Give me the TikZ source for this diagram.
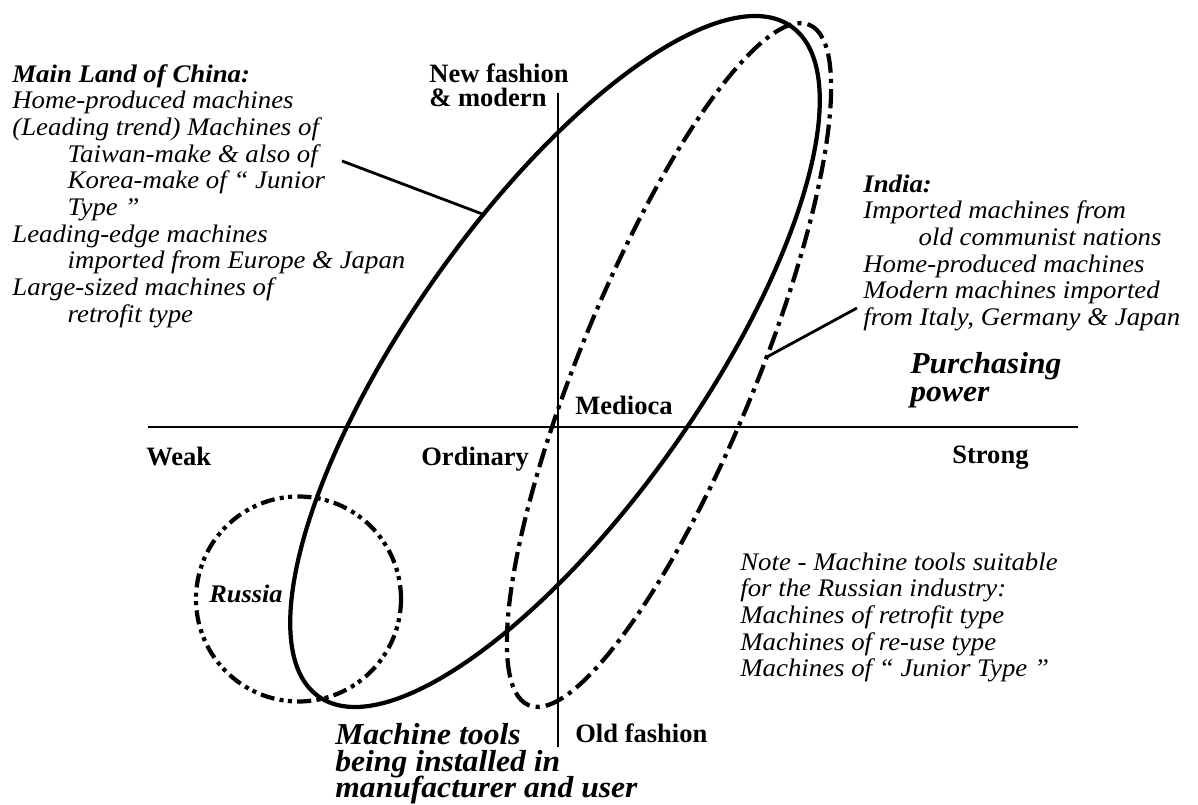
\documentclass[tikz,border=0pt]{standalone}
\usepackage{fontspec}
\setmainfont{Liberation Serif}
\newfontfamily\itf[FakeStretch=1.06,ItalicFont={Liberation Serif Italic},BoldItalicFont={Liberation Serif Bold Italic},BoldFont={Liberation Serif Bold}]{Liberation Serif}
\newfontfamily\bif[FakeStretch=1.04,ItalicFont={Liberation Serif Italic},BoldItalicFont={Liberation Serif Bold Italic},BoldFont={Liberation Serif Bold}]{Liberation Serif}
\newcommand\blk[1]{\begin{tabular}[t]{@{}l@{}}#1\end{tabular}}
\newcommand\ind{\hspace*{31.5pt}}
\begin{document}
\begin{tikzpicture}[x=0.02cm,y=-0.02cm,
  body/.style={inner sep=0,anchor=base west,font=\itf\itshape\fontsize{14.4}{15.2}\selectfont},
  lab/.style={inner sep=0,anchor=base west,font=\bfseries\fontsize{15.1}{15.1}\selectfont},
  big/.style={inner sep=0,anchor=base west,font=\bif\bfseries\itshape\fontsize{17.3}{17.3}\selectfont},
  axis/.style={line width=1.6pt},
  curve/.style={line width=2.4pt},
  leader/.style={line width=1.6pt},
  dashdot/.style={curve,dash pattern=on 11pt off 3.5pt on 2.3pt off 3.5pt},
  dashdotdot/.style={curve,dash pattern=on 8pt off 3pt on 2.3pt off 2.5pt on 2.3pt off 3pt}]
\useasboundingbox (0,0) rectangle (1198,805);

% axes
\coordinate (hl) at (148,427);
\coordinate (hr) at (1078,427);
\coordinate (vt) at (558,93);
\coordinate (vb) at (558,747);
\draw[axis] (hl) -- (hr);
\draw[axis] (vt) -- (vb);

% curves
\draw[curve, rotate around={54.8:(555,361.5)}] (555,361.5) ellipse [x radius=410, y radius=146];
\draw[dashdot, rotate around={67.6:(669,365)}] (669,365) ellipse [x radius=368, y radius=88];
\draw[dashdotdot] (298.5,599) circle [radius=102.5];

% China text
\node[body] (china) at (12,82) {\blk{\textbf{Main Land of China:}\\
Home-produced machines\\
(Leading trend) Machines of\\
\ind Taiwan-make \& also of\\
\ind Korea-make of “ Junior\\
\ind Type ”\\
Leading-edge machines\\
\ind imported from Europe \& Japan\\
Large-sized machines of\\
\ind retrofit type}};

% India text
\node[body] (india) at (863,192) {\blk{\textbf{India:}\\
Imported machines from\\
\ind old communist nations\\
Home-produced machines\\
Modern machines imported\\
from Italy, Germany \& Japan}};

% Note text
\node[body] (note) at (740,570) {\blk{Note - Machine tools suitable\\
for the Russian industry:\\
Machines of retrofit type\\
Machines of re-use type\\
Machines of “ Junior Type ”}};

% leaders
\coordinate (chinaL) at (342,161);
\coordinate (chinaE) at (485,215);
\draw[leader] (chinaL) -- (chinaE);
\coordinate (indiaL) at (857,308);
\coordinate (indiaE) at (765,358);
\draw[leader] (indiaL) -- (indiaE);

% axis labels
\node[lab] (nf1) at (429,82) {New fashion};
\node[lab] (nf2) at (429,106) {\& modern};
\node[lab] (weak) at (146,465) {Weak};
\node[lab] (ord) at (421,465) {Ordinary};
\node[lab] (strong) at (952,463) {Strong};
\node[lab] (med) at (575,414) {Medioca};
\node[lab] (old) at (575,742) {Old fashion};

\node[big] (pp1) at (910,373) {Purchasing};
\node[big] (pp2) at (910,401) {power};
\node[big] (mt1) at (335,744) {Machine tools};
\node[big] (mt2) at (335,771) {being installed in};
\node[big] (mt3) at (335,797) {manufacturer and user};

\node[inner sep=0,anchor=base west,font=\bif\bfseries\itshape\fontsize{14.4}{14.4}\selectfont] (russia) at (209,602) {Russia};
\end{tikzpicture}
\end{document}
